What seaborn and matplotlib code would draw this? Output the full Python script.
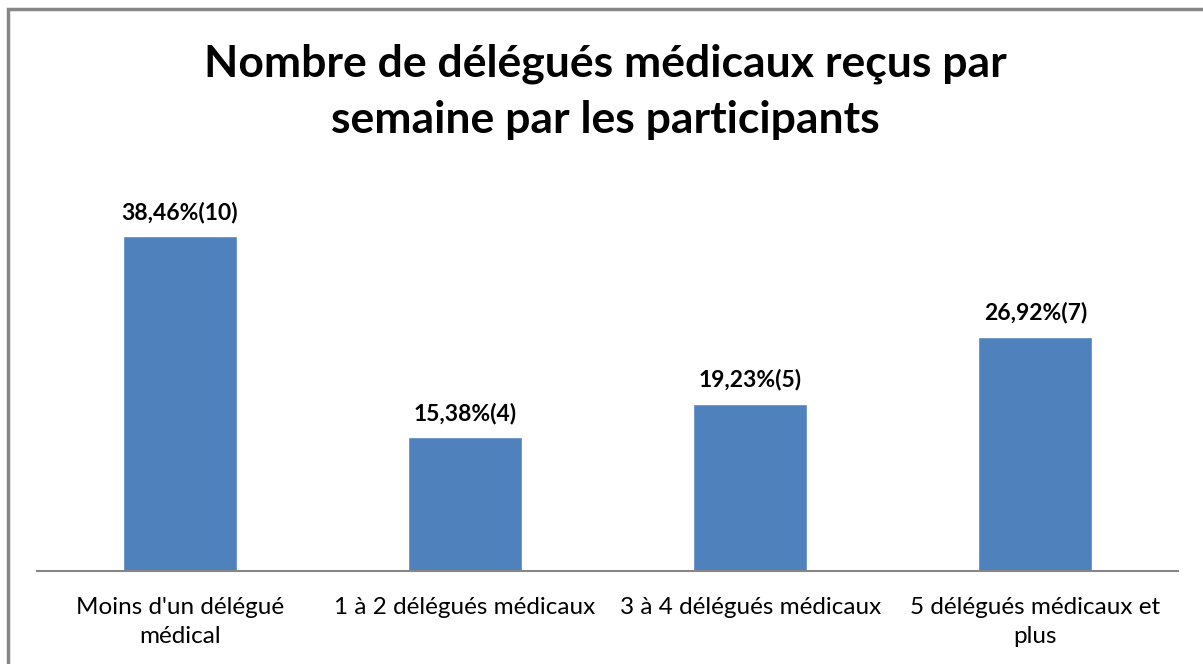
import seaborn as sns
import matplotlib
matplotlib.use("Agg")
from matplotlib import pyplot as plt
from matplotlib.patches import Rectangle
import pandas as pd

# data
categories = ["Moins d'un délégué\nmédical", "1 à 2 délégués médicaux",
              "3 à 4 délégués médicaux", "5 délégués médicaux et\nplus"]
pourcentages = [38.46, 15.38, 19.23, 26.92]
effectifs = [10, 4, 5, 7]

df = pd.DataFrame({"categorie": categories, "pct": pourcentages})

sns.set_style("white")
plt.rcParams['font.family'] = ['Lato', 'DejaVu Sans']
plt.rcParams['text.color'] = 'black'

fig = plt.figure(figsize=(12.03, 6.64), dpi=100)
ax = fig.add_axes([37 / 1203, 0.14, 1141 / 1203, 0.59])

sns.barplot(data=df, x="categorie", y="pct", color="#4F81BD", width=0.4,
            saturation=1, ax=ax)

for i, (p, n) in enumerate(zip(pourcentages, effectifs)):
    lbl = f"{p:.2f}".replace(".", ",") + f"%({n})"
    ax.text(i, p + 1.5, lbl, ha="center", va="bottom",
            fontsize=16.5, fontweight="bold", color="black")

ax.set_ylim(0, 45)
ax.set_xlim(-0.5, 3.5)
ax.set_xlabel("")
ax.set_ylabel("")
ax.set_yticks([])
for s in ["top", "right", "left"]:
    ax.spines[s].set_visible(False)
ax.spines["bottom"].set_color("#868686")
ax.spines["bottom"].set_linewidth(1.5)
ax.tick_params(axis="x", length=0, pad=19, labelsize=17.5, colors="black")
for t in ax.get_xticklabels():
    t.set_linespacing(1.45)

fig.text(0.503, 0.935, "Nombre de délégués médicaux reçus par\nsemaine par les participants",
         ha="center", va="top", fontsize=32, fontweight="bold", linespacing=1.5,
         color="black")

# chart border
fig.patches.append(Rectangle((8 / 1203, -0.1), 1.2, 1.1 - 9 / 664,
                             transform=fig.transFigure, fill=False,
                             edgecolor="#868686", linewidth=2.5))

fig.savefig("out.png", dpi=100)
